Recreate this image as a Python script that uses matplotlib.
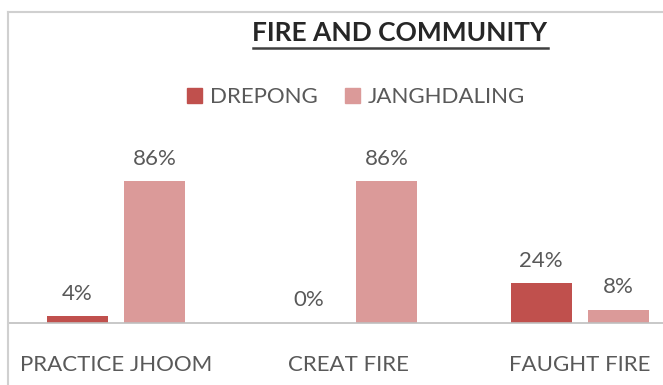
import numpy as np
import matplotlib
matplotlib.use("Agg")
import matplotlib.pyplot as plt
from matplotlib.lines import Line2D
from matplotlib.patches import Patch

# ----------------------------
# Data
# ----------------------------
categories = ["PRACTICE JHOOM", "CREAT FIRE", "FAUGHT FIRE"]
series_names = ["DREPONG", "JANGHDALING"]
drepong = [4, 0, 24]
janghdaling = [86, 86, 8]

RED = "#C0504D"
PINK = "#DB9A99"
TEXT = "#595959"
FONT = "Lato"
SIZE = 16

W, H = 663, 385

# ----------------------------
# Figure / axes
# ----------------------------
fig = plt.figure(figsize=(W / 100, H / 100), dpi=100)
ax = fig.add_axes([8 / W, (H - 323) / H, (W - 8) / W, (323 - 12) / H])

x = np.arange(len(categories))
width = 0.263
off = 0.167
b1 = ax.bar(x - off, drepong, width, color=RED)
b2 = ax.bar(x + off, janghdaling, width, color=PINK)

ax.set_xlim(-0.4655, 2.358)
ax.set_ylim(0, 188.4)

for s in ["top", "left", "right"]:
    ax.spines[s].set_visible(False)
ax.spines["bottom"].set_color("#BFBFBF")
ax.spines["bottom"].set_linewidth(1.2)
ax.set_yticks([])
ax.set_xticks(x)
ax.set_xticklabels(categories, fontsize=SIZE, color=TEXT, family=FONT)
ax.tick_params(axis="x", length=0, pad=23)

for bars in (b1, b2):
    ax.bar_label(bars, labels=[f"{v}%" for v in bars.datavalues],
                 padding=9, fontsize=SIZE, color=TEXT, family=FONT)

# ----------------------------
# Title with underline
# ----------------------------
title = fig.text(400 / W, 1 - 33 / H, "FIRE AND COMMUNITY", ha="center", va="center",
                 fontsize=19, fontweight="bold", color="#262626", family=FONT)
renderer = fig.canvas.get_renderer()
bb = title.get_window_extent(renderer).transformed(fig.transFigure.inverted())
uy = bb.y0 - 3 / H
fig.add_artist(Line2D([bb.x0, bb.x1], [uy, uy], transform=fig.transFigure,
                      color="#404040", linewidth=1.8))

# ----------------------------
# Legend
# ----------------------------
handles = [Patch(color=RED, label=series_names[0]), Patch(color=PINK, label=series_names[1])]
fig.legend(handles=handles, loc="center", bbox_to_anchor=(356 / W, 1 - 97 / H), ncol=2,
           frameon=False, handlelength=0.65, handleheight=0.65, handletextpad=0.35,
           columnspacing=1.25, prop={"family": FONT, "size": SIZE}, labelcolor=TEXT)

# ----------------------------
# Chart border (left and top edges)
# ----------------------------
fig.add_artist(Line2D([8 / W, 8 / W], [0, 1 - 12 / H], transform=fig.transFigure,
                      color="#D0D0D0", linewidth=1.5))
fig.add_artist(Line2D([8 / W, 1], [1 - 12 / H, 1 - 12 / H], transform=fig.transFigure,
                      color="#D0D0D0", linewidth=1.5))

fig.savefig("out.png", dpi=100)
